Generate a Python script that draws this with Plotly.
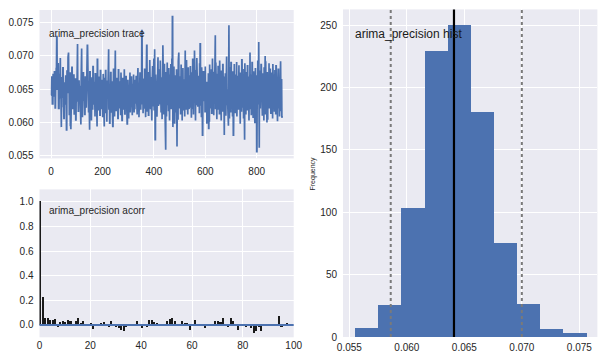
import plotly.graph_objects as go

# ---------------- data ----------------
trace_values = [
0.0641,0.0641,0.0641,0.0668,0.0668,0.0628,0.0628,0.0628,0.0672,0.0672,
0.0672,0.0640,0.0640,0.0676,0.0676,0.0676,0.0622,0.0622,0.0655,0.0655,
0.0681,0.0681,0.0729,0.0729,0.0650,0.0650,0.0650,0.0688,0.0688,0.0621,
0.0621,0.0621,0.0672,0.0672,0.0636,0.0697,0.0697,0.0655,0.0655,0.0593,
0.0593,0.0667,0.0667,0.0667,0.0638,0.0638,0.0682,0.0682,0.0624,0.0624,
0.0606,0.0606,0.0659,0.0659,0.0659,0.0640,0.0671,0.0671,0.0628,0.0628,
0.0589,0.0589,0.0677,0.0677,0.0645,0.0645,0.0698,0.0705,0.0705,0.0661,
0.0661,0.0612,0.0612,0.0674,0.0674,0.0596,0.0596,0.0590,0.0660,0.0660,
0.0683,0.0683,0.0683,0.0620,0.0620,0.0652,0.0652,0.0638,0.0671,0.0671,
0.0613,0.0613,0.0649,0.0649,0.0665,0.0665,0.0604,0.0604,0.0652,0.0652,
0.0631,0.0676,0.0718,0.0718,0.0645,0.0645,0.0617,0.0617,0.0662,0.0662,
0.0638,0.0638,0.0655,0.0620,0.0620,0.0597,0.0597,0.0663,0.0711,0.0711,
0.0640,0.0640,0.0608,0.0659,0.0659,0.0676,0.0676,0.0634,0.0634,0.0650,
0.0650,0.0612,0.0612,0.0668,0.0668,0.0643,0.0643,0.0622,0.0679,0.0679,
0.0631,0.0716,0.0716,0.0648,0.0648,0.0615,0.0615,0.0662,0.0637,0.0589,
0.0589,0.0676,0.0676,0.0625,0.0625,0.0651,0.0651,0.0603,0.0668,0.0668,
0.0640,0.0640,0.0619,0.0684,0.0684,0.0646,0.0646,0.0628,0.0628,0.0661,
0.0609,0.0609,0.0673,0.0673,0.0641,0.0641,0.0654,0.0622,0.0622,0.0594,
0.0695,0.0695,0.0636,0.0636,0.0618,0.0669,0.0669,0.0642,0.0657,0.0657,
0.0611,0.0611,0.0678,0.0678,0.0633,0.0652,0.0652,0.0620,0.0664,0.0664,
0.0640,0.0609,0.0609,0.0673,0.0627,0.0627,0.0594,0.0594,0.0666,0.0666,
0.0615,0.0615,0.0678,0.0678,0.0628,0.0654,0.0654,0.0601,0.0663,0.0663,
0.0637,0.0637,0.0673,0.0710,0.0710,0.0619,0.0647,0.0647,0.0599,0.0599,
0.0651,0.0651,0.0675,0.0675,0.0616,0.0616,0.0662,0.0604,0.0604,0.0646,
0.0594,0.0594,0.0681,0.0681,0.0627,0.0655,0.0655,0.0609,0.0668,0.0708,
0.0708,0.0639,0.0639,0.0618,0.0618,0.0666,0.0666,0.0631,0.0655,0.0655,
0.0606,0.0606,0.0679,0.0679,0.0643,0.0621,0.0621,0.0662,0.0649,0.0649,
0.0611,0.0611,0.0675,0.0637,0.0637,0.0658,0.0603,0.0603,0.0667,0.0628,
0.0628,0.0652,0.0652,0.0619,0.0680,0.0680,0.0642,0.0613,0.0613,0.0661,
0.0635,0.0635,0.0670,0.0617,0.0617,0.0646,0.0598,0.0598,0.0664,0.0664,
0.0629,0.0629,0.0606,0.0654,0.0654,0.0638,0.0675,0.0675,0.0615,0.0649,
0.0649,0.0626,0.0668,0.0668,0.0640,0.0611,0.0611,0.0657,0.0657,0.0633,
0.0633,0.0672,0.0615,0.0615,0.0650,0.0621,0.0621,0.0664,0.0643,0.0643,
0.0628,0.0669,0.0669,0.0637,0.0612,0.0612,0.0655,0.0682,0.0682,0.0630,
0.0647,0.0647,0.0608,0.0662,0.0662,0.0641,0.0674,0.0674,0.0619,0.0619,
0.0653,0.0633,0.0633,0.0738,0.0738,0.0627,0.0658,0.0658,0.0614,0.0666,
0.0666,0.0645,0.0622,0.0622,0.0680,0.0680,0.0641,0.0608,0.0608,0.0663,
0.0634,0.0686,0.0716,0.0716,0.0616,0.0650,0.0650,0.0639,0.0676,0.0611,
0.0611,0.0659,0.0632,0.0632,0.0694,0.0645,0.0645,0.0620,0.0667,0.0667,
0.0638,0.0603,0.0603,0.0655,0.0685,0.0685,0.0624,0.0661,0.0661,0.0636,
0.0696,0.0618,0.0710,0.0710,0.0649,0.0574,0.0574,0.0672,0.0630,0.0630,
0.0663,0.0610,0.0610,0.0684,0.0642,0.0642,0.0698,0.0626,0.0626,0.0658,
0.0680,0.0680,0.0642,0.0627,0.0627,0.0693,0.0649,0.0649,0.0615,0.0668,
0.0637,0.0637,0.0605,0.0660,0.0660,0.0716,0.0633,0.0652,0.0652,0.0612,
0.0687,0.0687,0.0645,0.0624,0.0598,0.0559,0.0559,0.0676,0.0638,0.0609,
0.0666,0.0666,0.0690,0.0627,0.0627,0.0655,0.0617,0.0617,0.0682,0.0641,
0.0603,0.0603,0.0672,0.0634,0.0658,0.0658,0.0688,0.0620,0.0620,0.0648,
0.0696,0.0629,0.0759,0.0759,0.0593,0.0665,0.0665,0.0611,0.0684,0.0642,
0.0642,0.0598,0.0671,0.0671,0.0627,0.0659,0.0615,0.0615,0.0680,0.0564,
0.0564,0.0631,0.0662,0.0604,0.0604,0.0692,0.0646,0.0705,0.0621,0.0668,
0.0668,0.0634,0.0655,0.0655,0.0612,0.0687,0.0687,0.0640,0.0625,0.0671,
0.0603,0.0658,0.0658,0.0682,0.0636,0.0636,0.0618,0.0665,0.0640,0.0640,
0.0609,0.0679,0.0708,0.0627,0.0653,0.0653,0.0619,0.0694,0.0648,0.0631,
0.0631,0.0666,0.0612,0.0683,0.0683,0.0637,0.0620,0.0620,0.0671,0.0644,
0.0622,0.0622,0.0685,0.0630,0.0651,0.0651,0.0607,0.0674,0.0674,0.0639,
0.0620,0.0695,0.0695,0.0655,0.0612,0.0667,0.0667,0.0634,0.0708,0.0618,
0.0650,0.0650,0.0603,0.0679,0.0640,0.0640,0.0626,0.0697,0.0643,0.0643,
0.0662,0.0625,0.0625,0.0670,0.0631,0.0656,0.0656,0.0614,0.0689,0.0641,
0.0718,0.0718,0.0625,0.0668,0.0668,0.0608,0.0683,0.0647,0.0647,0.0581,
0.0581,0.0661,0.0636,0.0676,0.0676,0.0650,0.0632,0.0672,0.0672,0.0615,
0.0684,0.0641,0.0641,0.0623,0.0660,0.0660,0.0598,0.0629,0.0655,0.0655,
0.0610,0.0674,0.0674,0.0591,0.0591,0.0663,0.0601,0.0687,0.0645,0.0645,
0.0621,0.0669,0.0669,0.0633,0.0680,0.0614,0.0614,0.0652,0.0696,0.0627,
0.0659,0.0659,0.0642,0.0611,0.0675,0.0675,0.0637,0.0666,0.0731,0.0731,
0.0620,0.0690,0.0648,0.0648,0.0631,0.0605,0.0672,0.0672,0.0643,0.0619,
0.0684,0.0684,0.0640,0.0657,0.0657,0.0612,0.0693,0.0628,0.0628,0.0662,
0.0646,0.0603,0.0603,0.0678,0.0635,0.0635,0.0654,0.0616,0.0687,0.0687,
0.0641,0.0624,0.0669,0.0581,0.0581,0.0655,0.0631,0.0674,0.0674,0.0643,
0.0610,0.0662,0.0662,0.0699,0.0626,0.0650,0.0650,0.0637,0.0619,0.0671,
0.0595,0.0746,0.0746,0.0645,0.0606,0.0682,0.0682,0.0633,0.0657,0.0615,
0.0690,0.0690,0.0641,0.0628,0.0665,0.0665,0.0609,0.0677,0.0649,0.0581,
0.0581,0.0622,0.0688,0.0688,0.0636,0.0659,0.0614,0.0614,0.0672,0.0648,
0.0626,0.0626,0.0691,0.0609,0.0653,0.0653,0.0635,0.0670,0.0670,0.0619,
0.0648,0.0686,0.0627,0.0627,0.0661,0.0598,0.0598,0.0675,0.0640,0.0640,
0.0657,0.0616,0.0694,0.0694,0.0645,0.0622,0.0679,0.0679,0.0638,0.0606,
0.0664,0.0643,0.0574,0.0574,0.0689,0.0625,0.0625,0.0652,0.0612,0.0676,
0.0637,0.0637,0.0660,0.0618,0.0685,0.0685,0.0641,0.0627,0.0669,0.0603,
0.0603,0.0656,0.0634,0.0634,0.0705,0.0620,0.0648,0.0648,0.0672,0.0611,
0.0663,0.0636,0.0690,0.0690,0.0624,0.0654,0.0608,0.0608,0.0677,0.0642,
0.0623,0.0623,0.0666,0.0599,0.0682,0.0682,0.0638,0.0657,0.0614,0.0671,
0.0556,0.0556,0.0646,0.0627,0.0693,0.0635,0.0660,0.0660,0.0721,0.0562,
0.0562,0.0678,0.0644,0.0621,0.0621,0.0665,0.0632,0.0687,0.0687,0.0617,
0.0650,0.0650,0.0610,0.0674,0.0640,0.0640,0.0625,0.0661,0.0603,0.0683,
0.0646,0.0630,0.0700,0.0700,0.0612,0.0692,0.0637,0.0637,0.0655,0.0600,
0.0600,0.0676,0.0604,0.0604,0.0668,0.0643,0.0643,0.0626,0.0689,0.0621,
0.0666,0.0666,0.0633,0.0681,0.0648,0.0614,0.0614,0.0675,0.0629,0.0659,
0.0642,0.0642,0.0606,0.0688,0.0651,0.0651,0.0624,0.0672,0.0640,0.0616,
0.0679,0.0679,0.0635,0.0658,0.0612,0.0685,0.0685,0.0646,0.0627,0.0667,
0.0602,0.0602,0.0654,0.0638,0.0680,0.0680,0.0621,0.0661,0.0643,0.0609,
0.0676,0.0632,0.0632,0.0692,0.0648,0.0617,0.0664,0.0664,0.0607,0.0610,
]
trace_index = list(range(len(trace_values)))

acorr_lags = list(range(100))
acorr_values = [
1.0, 0.22, 0.057, 0.057, 0.04, 0.04, 0.045, -0.02, 0.02, 0.025,
0.02, 0.04, 0.03, 0.003, 0.025, 0.057, 0.012, 0.03, 0.002, -0.01,
0.005, -0.035, -0.01, 0.0, 0.01, 0.02, -0.005, -0.02, 0.025, 0.003,
-0.02, -0.03, -0.04, -0.05, -0.02, 0.003, -0.015, -0.01, 0.025, -0.01,
-0.025, -0.015, -0.02, 0.035, 0.035, 0.02, 0.005, -0.003, 0.004, 0.002,
0.03, 0.045, 0.05, 0.025, 0.003, -0.008, 0.025, 0.012, 0.015, -0.045,
0.002, 0.04, -0.005, 0.002, 0.003, -0.03, 0.002, -0.015, -0.01, 0.025,
0.03, 0.02, 0.05, -0.015, -0.02, 0.05, 0.025, 0.003, -0.045, 0.002,
0.003, -0.02, -0.01, -0.03, -0.07, -0.05, -0.02, -0.055, -0.01, 0.002,
-0.015, -0.015, -0.015, -0.015, 0.07, -0.02, 0.003, 0.01, 0.002, -0.01,
]
acorr_baseline = 0.0

hist_edges = [0.05551, 0.05752, 0.05953, 0.06155, 0.06356, 0.06557,
              0.06758, 0.06959, 0.07161, 0.07362, 0.07563]
hist_counts = [7, 25, 103, 229, 250, 180, 75, 26, 6, 3]
hist_mean = 0.0641
hist_interval = [0.0586, 0.0700]

trace_xticks = [0, 200, 400, 600, 800]
trace_yticks = [0.055, 0.060, 0.065, 0.070, 0.075]
acorr_xticks = [0, 20, 40, 60, 80, 100]
acorr_yticks = [0.0, 0.2, 0.4, 0.6, 0.8, 1.0]
hist_xticks = [0.055, 0.060, 0.065, 0.070, 0.075]
hist_yticks = [0, 50, 100, 150, 200, 250]

# ---------------- styling ----------------
W, H = 604, 360
BLUE = "#4C72B0"
BG = "#EAEAF2"
TXT = "#262626"
FONT = "Liberation Sans, Arial, sans-serif"

def px_x(a, b):
    return [a / W, b / W]

def px_y(top, bottom):
    return [1 - bottom / H, 1 - top / H]

hist_centers = [(hist_edges[i] + hist_edges[i + 1]) / 2 for i in range(len(hist_counts))]
hist_widths = [hist_edges[i + 1] - hist_edges[i] for i in range(len(hist_counts))]

fig = go.Figure()

fig.add_trace(go.Scatter(x=trace_index, y=trace_values, mode="lines",
                         line=dict(color=BLUE, width=1.7),
                         xaxis="x", yaxis="y", hoverinfo="skip"))

fig.add_trace(go.Bar(x=acorr_lags, y=acorr_values, width=0.8,
                     marker=dict(color="#1a1a1a", line=dict(width=0)),
                     xaxis="x2", yaxis="y2", hoverinfo="skip"))

fig.add_trace(go.Bar(x=hist_centers, y=hist_counts, width=hist_widths,
                     marker=dict(color=BLUE, line=dict(width=0)),
                     xaxis="x3", yaxis="y3", hoverinfo="skip"))

axis_common = dict(showgrid=True, gridcolor="white", gridwidth=1,
                   zeroline=False, showline=False, ticks="",
                   tickfont=dict(family=FONT, size=10, color=TXT),
                   automargin=False)

fig.update_layout(
    width=W, height=H,
    margin=dict(l=0, r=0, t=0, b=0),
    paper_bgcolor="white",
    plot_bgcolor=BG,
    showlegend=False,
    bargap=0,
    xaxis=dict(domain=px_x(39.5, 293.7), range=[-45, 944],
               tickvals=trace_xticks, anchor="y", ticklabelstandoff=6, **axis_common),
    yaxis=dict(domain=px_y(10, 158.4), range=[0.0546, 0.0769],
               tickvals=trace_yticks, tickformat=".3f", anchor="x",
               ticklabelstandoff=5, **axis_common),
    xaxis2=dict(domain=px_x(39.5, 293.7), range=[0, 100],
                tickvals=acorr_xticks, anchor="y2", ticklabelstandoff=1, **axis_common),
    yaxis2=dict(domain=px_y(189.4, 337.3), range=[-0.1, 1.1],
                tickvals=acorr_yticks, tickformat=".1f", anchor="x2",
                ticklabelstandoff=5, **axis_common),
    xaxis3=dict(domain=px_x(343, 597.4), range=[0.05445, 0.07657],
                tickvals=hist_xticks, tickformat=".3f", anchor="y3",
                ticklabelstandoff=3, **axis_common),
    yaxis3=dict(domain=px_y(9.4, 337), range=[0, 262.5],
                tickvals=hist_yticks, anchor="x3", ticklabelstandoff=5, **axis_common),
)

# lines on the axes
fig.add_shape(type="line", x0=0, x1=1, y0=acorr_baseline, y1=acorr_baseline,
              xref="x2 domain", yref="y2", line=dict(color=BLUE, width=2))
for v in hist_interval:
    fig.add_shape(type="line", x0=v, x1=v, y0=0, y1=1, xref="x3", yref="y3 domain",
                  line=dict(color="#7a7a7a", width=2, dash="dot"))
fig.add_shape(type="line", x0=hist_mean, x1=hist_mean, y0=0, y1=1, xref="x3", yref="y3 domain",
              line=dict(color="black", width=2.2))

# text labels
fig.add_annotation(text="arima_precision trace", xref="x domain", yref="y domain",
                   x=0.03, y=0.84, xanchor="left", yanchor="middle", showarrow=False,
                   font=dict(family=FONT, size=10, color=TXT))
fig.add_annotation(text="arima_precision acorr", xref="x2 domain", yref="y2 domain",
                   x=0.03, y=0.86, xanchor="left", yanchor="middle", showarrow=False,
                   font=dict(family=FONT, size=10, color=TXT))
fig.add_annotation(text="arima_precision hist", xref="x3 domain", yref="y3 domain",
                   x=0.04, y=0.925, xanchor="left", yanchor="middle", showarrow=False,
                   font=dict(family=FONT, size=12, color="#1a1a1a"))
fig.add_annotation(text="Frequency", xref="paper", yref="paper",
                   x=312 / W, y=1 - 173.5 / H, textangle=-90,
                   xanchor="center", yanchor="middle", showarrow=False,
                   font=dict(family=FONT, size=7, color=TXT))

fig.write_html("out.html",
               config={"displayModeBar": False},
               post_script="document.body.style.margin='0';document.body.style.padding='0';")
